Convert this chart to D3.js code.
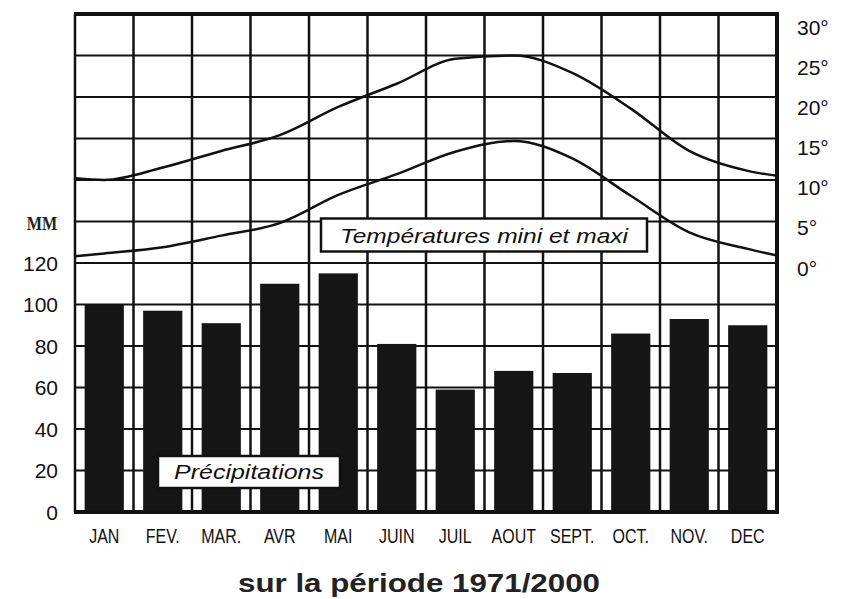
<!DOCTYPE html>
<html>
<head>
<meta charset="utf-8">
<script src="https://cdn.jsdelivr.net/npm/d3@7"></script>
<style>
  body { margin: 0; background: #fff; }
  svg { display: block; }
</style>
</head>
<body>
<div id="chart"></div>
<script>
// data
const months = ["JAN", "FEV.", "MAR.", "AVR", "MAI", "JUIN", "JUIL", "AOUT", "SEPT.", "OCT.", "NOV.", "DEC"];
const precip = [100, 97, 91, 110, 115, 81, 59, 68, 67, 86, 93, 90];
const tempMax = [10.2, 10, 11.5, 13.5, 15.4, 18.8, 21.6, 24.6, 25, 22.9, 18.6, 13.5, 11.1, 10.5];
const tempMin = [0.8, 1.15, 1.9, 3.3, 4.8, 8.2, 10.7, 13.4, 14.7, 12.6, 8.1, 3.7, 1.7, 0.9];
const mmTicks = [0, 20, 40, 60, 80, 100, 120];
const degTicks = [0, 5, 10, 15, 20, 25, 30];

function drawClimate(containerId) {
    const container = document.getElementById(containerId);
    const width = 851, height = 599;
    const left = 75, right = 777, top = 14, bottom = 512;

    const svg = d3.select(container)
        .append("svg")
        .attr("width", width)
        .attr("height", height)
        .style("font-family", "'Liberation Sans', Arial, sans-serif");

    const x = d3.scaleBand()
        .domain(months)
        .range([left, right])
        .paddingInner(0.33)
        .paddingOuter(0.165);

    // grid covers 0..240 mm; temperature 0..30 sits on the upper half
    const y = d3.scaleLinear().domain([0, 240]).range([bottom, top]);
    const yT = d3.scaleLinear().domain([0, 30]).range([y(120), y(240)]);
    // the scanned right-hand labels sit a little lower than the grid
    const yTLabel = d3.scaleLinear().domain([0, 30]).range([268, 27]);

    // edge points + month centres for the temperature curves
    const tx = [left, ...months.map(m => x(m) + x.bandwidth() / 2), right];

    // horizontal grid
    svg.selectAll("line.hgrid")
        .data(d3.range(20, 240, 20))
        .enter()
        .append("line")
        .attr("x1", left).attr("x2", right)
        .attr("y1", d => y(d)).attr("y2", d => y(d))
        .attr("stroke", "#111")
        .attr("stroke-width", 2);

    // vertical grid at column boundaries
    svg.selectAll("line.vgrid")
        .data(d3.range(1, 12))
        .enter()
        .append("line")
        .attr("x1", d => left + d * x.step())
        .attr("x2", d => left + d * x.step())
        .attr("y1", top).attr("y2", bottom)
        .attr("stroke", "#111")
        .attr("stroke-width", 2.5);

    // bars
    svg.selectAll("rect.bar")
        .data(precip)
        .enter()
        .append("rect")
        .attr("x", (d, i) => x(months[i]))
        .attr("y", d => y(d))
        .attr("width", x.bandwidth())
        .attr("height", d => y(0) - y(d))
        .attr("fill", "#151515");

    // temperature lines
    const line = d3.line()
        .x((d, i) => tx[i])
        .y(d => yT(d))
        .curve(d3.curveMonotoneX);

    [tempMax, tempMin].forEach(series => {
        svg.append("path")
            .attr("d", line(series))
            .attr("fill", "none")
            .attr("stroke", "#111")
            .attr("stroke-width", 2.5);
    });

    // frame
    svg.append("line").attr("x1", left).attr("x2", left).attr("y1", top).attr("y2", bottom)
        .attr("stroke", "#111").attr("stroke-width", 2.5);
    svg.append("line").attr("x1", left - 1).attr("x2", right + 2).attr("y1", top).attr("y2", top)
        .attr("stroke", "#111").attr("stroke-width", 4);
    svg.append("line").attr("x1", right).attr("x2", right).attr("y1", top).attr("y2", bottom)
        .attr("stroke", "#111").attr("stroke-width", 4);
    svg.append("line").attr("x1", left - 1).attr("x2", right + 2).attr("y1", bottom).attr("y2", bottom)
        .attr("stroke", "#111").attr("stroke-width", 4);

    // left axis labels
    svg.selectAll("text.mm")
        .data(mmTicks)
        .enter()
        .append("text")
        .attr("x", 58)
        .attr("y", d => y(d))
        .attr("dy", "0.36em")
        .attr("text-anchor", "end")
        .style("font-size", "21px")
        .attr("fill", "#111")
        .text(d => d);

    svg.append("text")
        .attr("transform", `translate(42,${y(139)}) scale(0.85,1)`)
        .attr("dy", "0.36em")
        .attr("text-anchor", "middle")
        .style("font-size", "19px")
        .style("font-weight", "bold")
        .style("font-family", "'Liberation Serif', serif")
        .attr("fill", "#222")
        .text("MM");

    // right axis labels
    svg.selectAll("text.deg")
        .data(degTicks)
        .enter()
        .append("text")
        .attr("x", 797)
        .attr("y", d => yTLabel(d))
        .attr("dy", "0.36em")
        .style("font-size", "21px")
        .attr("fill", "#111")
        .text(d => d + "°");

    // month labels (narrow lettering)
    svg.selectAll("text.month")
        .data(months)
        .enter()
        .append("text")
        .attr("transform", d => `translate(${x(d) + x.bandwidth() / 2},543) scale(0.8,1)`)
        .attr("text-anchor", "middle")
        .style("font-size", "20px")
        .attr("fill", "#111")
        .text(d => d);

    // boxed captions
    function caption(cx, cy, w, h, label, size, len) {
        svg.append("rect")
            .attr("x", cx - w / 2).attr("y", cy - h / 2)
            .attr("width", w).attr("height", h)
            .attr("fill", "#fff")
            .attr("stroke", "#111")
            .attr("stroke-width", 2.5);
        svg.append("text")
            .attr("x", cx - len / 2).attr("y", cy)
            .attr("dy", "0.36em")
            .attr("textLength", len)
            .attr("lengthAdjust", "spacingAndGlyphs")
            .style("font-size", size + "px")
            .style("font-style", "italic")
            .attr("fill", "#111")
            .text(label);
    }
    caption(484, 235, 326, 33, "Températures mini et maxi", 21, 288);
    caption(249, 472, 182, 32, "Précipitations", 20, 150);

    // subtitle
    svg.append("text")
        .attr("x", 238)
        .attr("y", 592)
        .attr("textLength", 362)
        .attr("lengthAdjust", "spacingAndGlyphs")
        .style("font-size", "26px")
        .style("font-weight", "bold")
        .attr("fill", "#222")
        .text("sur la période 1971/2000");
}

drawClimate("chart");
</script>
</body>
</html>
